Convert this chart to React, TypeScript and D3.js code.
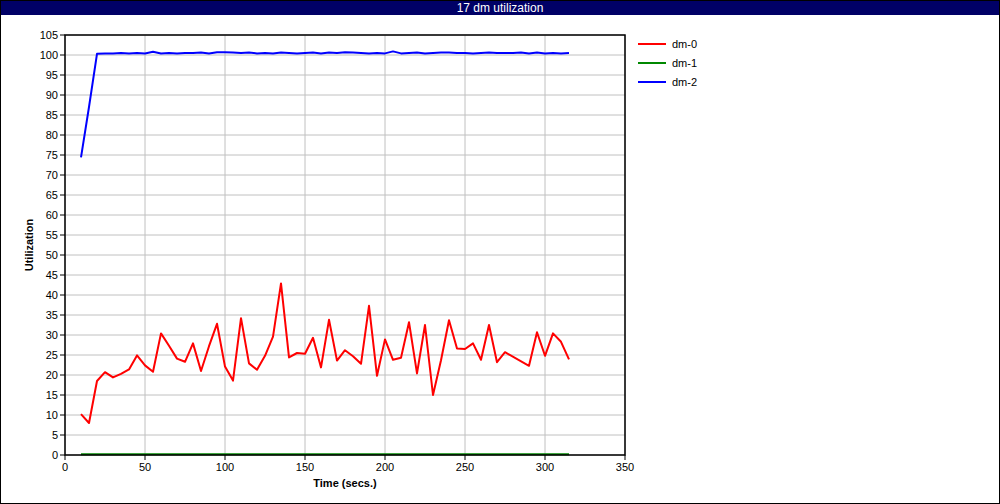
import React from "react";
import * as d3 from "d3";

const title = "17 dm utilization";
const xLabel = "Time (secs.)";
const yLabel = "Utilization";
const xTicks = [0, 50, 100, 150, 200, 250, 300, 350];
const yTicks = [0, 5, 10, 15, 20, 25, 30, 35, 40, 45, 50, 55, 60, 65, 70, 75, 80, 85, 90, 95, 100, 105];

const dm0Times = [10, 15, 20, 25, 30, 35, 40, 45, 50, 55, 60, 65, 70, 75, 80, 85, 90, 95, 100, 105, 110, 115, 120, 125, 130, 135, 140, 145, 150, 155, 160, 165, 170, 175, 180, 185, 190, 195, 200, 205, 210, 215, 220, 225, 230, 235, 240, 245, 250, 255, 260, 265, 270, 275, 290, 295, 300, 305, 310, 315];
const dm0Values = [10.2, 8.0, 18.5, 20.7, 19.4, 20.3, 21.4, 24.9, 22.4, 20.8, 30.4, 27.3, 24.1, 23.3, 27.9, 21.0, 27.2, 32.8, 22.1, 18.6, 34.2, 22.9, 21.3, 24.8, 29.6, 42.9, 24.4, 25.5, 25.3, 29.3, 21.9, 33.8, 23.6, 26.2, 24.7, 22.8, 37.3, 19.8, 28.9, 23.8, 24.3, 33.2, 20.4, 32.5, 15.0, 23.7, 33.7, 26.6, 26.5, 27.9, 23.8, 32.5, 23.2, 25.7, 22.3, 30.7, 24.8, 30.4, 28.3, 23.9];

const dm1Times = [10, 315];
const dm1Values = [0.2, 0.2];

const dm2Times = [10, 15, 20, 25, 30, 35, 40, 45, 50, 55, 60, 65, 70, 75, 80, 85, 90, 95, 100, 105, 110, 115, 120, 125, 130, 135, 140, 145, 150, 155, 160, 165, 170, 175, 180, 185, 190, 195, 200, 205, 210, 215, 220, 225, 230, 235, 240, 245, 250, 255, 260, 265, 270, 275, 280, 285, 290, 295, 300, 305, 310, 315];
const dm2Values = [74.4, 87.0, 100.3, 100.4, 100.4, 100.5, 100.4, 100.5, 100.4, 100.8, 100.4, 100.5, 100.4, 100.5, 100.5, 100.6, 100.4, 100.7, 100.7, 100.6, 100.5, 100.6, 100.4, 100.5, 100.4, 100.6, 100.5, 100.4, 100.5, 100.6, 100.4, 100.6, 100.5, 100.7, 100.6, 100.5, 100.4, 100.5, 100.4, 100.9, 100.4, 100.5, 100.6, 100.4, 100.5, 100.6, 100.6, 100.5, 100.5, 100.4, 100.5, 100.6, 100.5, 100.5, 100.5, 100.6, 100.4, 100.6, 100.4, 100.5, 100.4, 100.5];

const seriesNames = ["dm-0", "dm-1", "dm-2"];
const seriesColors = ["#ff0000", "#008800", "#0000ff"];

export default function App() {
  const W = 1000, H = 504;
  const left = 65, right = 625, top = 35, bottom = 455;
  const x = d3.scaleLinear().domain([0, 350]).range([left, right]);
  const y = d3.scaleLinear().domain([0, 105]).range([bottom, top]);
  const line = d3.line<[number, number]>().x(d => x(d[0])).y(d => y(d[1]));
  const series: [number[], number[]][] = [[dm0Times, dm0Values], [dm1Times, dm1Values], [dm2Times, dm2Values]];
  const font = "Liberation Sans, Arial, sans-serif";

  return (
    <svg width={W} height={H} style={{ position: "absolute", left: 0, top: 0, fontFamily: font }}>
      <rect x={0} y={0} width={W} height={H} fill="#fff" />
      <rect x={0.5} y={0.5} width={W - 1} height={H - 1} fill="none" stroke="#000" />
      <rect x={1} y={1} width={W - 2} height={14} fill="#000066" />
      <text x={W / 2} y={12} textAnchor="middle" fill="#fff" fontSize={12}>{title}</text>

      {xTicks.map(t => (
        <line key={"gx" + t} x1={x(t)} x2={x(t)} y1={top} y2={bottom} stroke="#c0c0c0" />
      ))}
      {yTicks.map(t => (
        <line key={"gy" + t} x1={left} x2={right} y1={y(t)} y2={y(t)} stroke="#c0c0c0" />
      ))}

      {series.map(([ts, vs], i) => (
        <path key={i} d={line(ts.map((t, j) => [t, vs[j]] as [number, number])) || ""} fill="none" stroke={seriesColors[i]} strokeWidth={2} strokeLinejoin="round" />
      ))}

      <rect x={left} y={top} width={right - left} height={bottom - top} fill="none" stroke="#000" strokeWidth={1.5} />

      {yTicks.map(t => (
        <g key={"ty" + t}>
          <line x1={left - 5} x2={left} y1={y(t)} y2={y(t)} stroke="#000" />
          <text x={left - 7} y={y(t) + 4} textAnchor="end" fontSize={11} fill="#000">{t}</text>
        </g>
      ))}
      {xTicks.map(t => (
        <g key={"tx" + t}>
          <line x1={x(t)} x2={x(t)} y1={bottom} y2={bottom + 5} stroke="#000" />
          <text x={x(t)} y={bottom + 16} textAnchor="middle" fontSize={11} fill="#000">{t}</text>
        </g>
      ))}

      <text x={(left + right) / 2} y={487} textAnchor="middle" fontSize={11} fontWeight="bold" fill="#000">{xLabel}</text>
      <text transform={`translate(33, ${(top + bottom) / 2}) rotate(-90)`} textAnchor="middle" fontSize={11} fontWeight="bold" fill="#000">{yLabel}</text>

      {seriesNames.map((n, i) => (
        <g key={n}>
          <line x1={638} x2={666} y1={44 + i * 19} y2={44 + i * 19} stroke={seriesColors[i]} strokeWidth={2} />
          <text x={672} y={48 + i * 19} fontSize={11} fill="#000">{n}</text>
        </g>
      ))}
    </svg>
  );
}
